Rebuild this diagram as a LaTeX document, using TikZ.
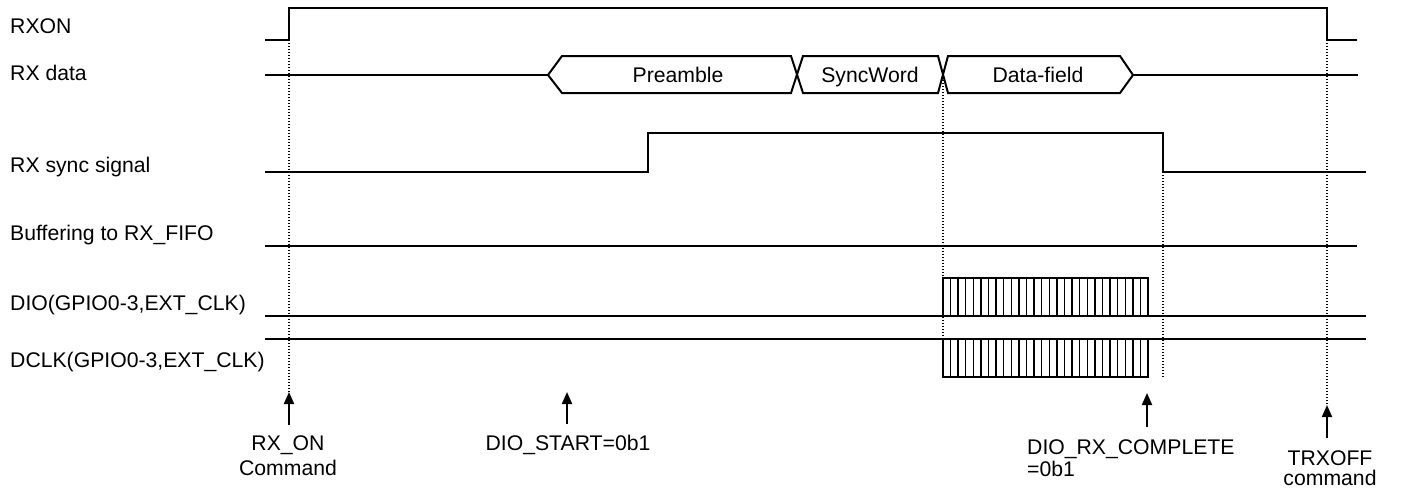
\documentclass[tikz,border=0pt]{standalone}
\usepackage{fontspec}
\setmainfont{Liberation Sans}
\usetikzlibrary{arrows.meta}
\begin{document}
\begin{tikzpicture}[x=1pt,y=-1pt,
  sig/.style={line width=2.2pt, line join=miter},
  bus/.style={line width=2pt, line join=miter},
  guide/.style={line width=1.3pt, dash pattern=on 1.3pt off 1.7pt},
  lbl/.style={font=\fontsize{21.2}{25}\selectfont, inner sep=0pt, anchor=base west},
  ctext/.style={font=\fontsize{21.2}{25}\selectfont, inner sep=0pt, anchor=base},
  evt/.style={line width=2pt, -{Triangle[width=10pt,length=12pt]}},
  hatchbox/.style={line width=2.2pt},
  stripe/.style={line width=1.4pt}]
\useasboundingbox (0,0) rectangle (1403,490);

% row labels
\node[lbl] (lrxon) at (10,33) {RXON};
\node[lbl] (lrxdata) at (10,80) {RX data};
\node[lbl] (lsync) at (10,172) {RX sync signal};
\node[lbl] (lbuf) at (10,240) {Buffering to RX\_FIFO};
\node[lbl] (ldio) at (10,310) {DIO(GPIO0-3,EXT\_CLK)};
\node[lbl] (ldclk) at (10,367) {DCLK(GPIO0-3,EXT\_CLK)};

% guide lines (dotted)
\draw[guide] (289,40) -- (289,392);
\draw[guide] (943,80) -- (943,377);
\draw[guide] (1163,172) -- (1163,378);
\draw[guide] (1327,40) -- (1327,405);

% RXON
\draw[sig] (265,40) -- (289,40) -- (289,8) -- (1327,8) -- (1327,40) -- (1357,40);

% RX data
\draw[sig] (265,75) -- (548,75);
\draw[bus] (548,75) -- (562,56) -- (791,56) -- (803,93) -- (938,93) -- (948,56) -- (1120,56) -- (1133,75) -- (1120,93) -- (948,93) -- (938,56) -- (803,56) -- (791,93) -- (562,93) -- cycle;
\draw[sig] (1133,75) -- (1358,75);
\node[ctext] (tpre) at (678,82) {Preamble};
\node[ctext] (tsync) at (870,82) {SyncWord};
\node[ctext] (tdata) at (1038,82) {Data-field};

% RX sync signal
\draw[sig] (265,172) -- (648,172) -- (648,133) -- (1163,133) -- (1163,172) -- (1366,172);

% Buffering
\draw[sig] (265,246) -- (1357,246);

% DIO
\draw[sig] (265,316) -- (1366,316);
\foreach \k in {1,...,26} \draw[stripe] ({943+\k*205/27},278) -- ++(0,38);
\draw[hatchbox] (943,278) rectangle (1148,316);

% DCLK
\draw[sig] (265,339) -- (1366,339);
\foreach \k in {1,...,26} \draw[stripe] ({943+\k*205/27},339) -- ++(0,38);
\draw[hatchbox] (943,339) rectangle (1148,377);

% event labels
\node[ctext] (erxon) at (288,450) {RX\_ON};
\node[ctext] (erxon2) at (288,475) {Command};
\node[ctext] (estart) at (568,450) {DIO\_START=0b1};
\node[lbl] (ecomp) at (1027,454) {DIO\_RX\_COMPLETE};
\node[lbl] (ecomp2) at (1027,476) {=0b1};
\node[ctext] (eoff) at (1330,465) {TRXOFF};
\node[ctext] (eoff2) at (1330,485) {command};

% event arrows
\coordinate (a1) at (289,392);
\coordinate (a2) at (567,392);
\coordinate (a3) at (1147,393);
\coordinate (a4) at (1327,405);
\draw[evt] (erxon.north -| a1) ++(0,-10) -- (a1);
\draw[evt] (estart.north -| a2) ++(0,-10) -- (a2);
\draw[evt] (ecomp.north -| a3) ++(0,-12) -- (a3);
\draw[evt] (eoff.north -| a4) ++(0,-12) -- (a4);
\end{tikzpicture}
\end{document}
